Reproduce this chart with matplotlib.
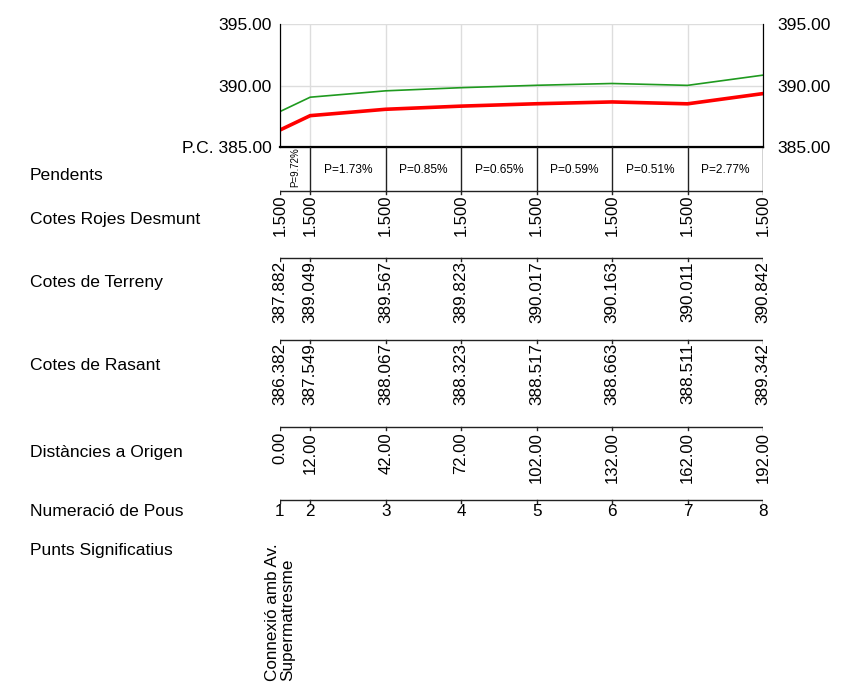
import matplotlib
matplotlib.use('Agg')
import matplotlib.pyplot as plt

plt.rcParams['font.family'] = ['Liberation Sans', 'DejaVu Sans']

# dades del perfil
distancies = [0, 12, 42, 72, 102, 132, 162, 192]
cotes_terreny = [387.882, 389.049, 389.567, 389.823, 390.017, 390.163, 390.011, 390.842]
cotes_rasant = [386.382, 387.549, 388.067, 388.323, 388.517, 388.663, 388.511, 389.342]
cotes_rojes = [1.500, 1.500, 1.500, 1.500, 1.500, 1.500, 1.500, 1.500]
pendents = ['P=9.72%', 'P=1.73%', 'P=0.85%', 'P=0.65%', 'P=0.59%', 'P=0.51%', 'P=2.77%']
pous = ['1', '2', '3', '4', '5', '6', '7', '8']
punts = ['Connexió amb Av.\nSupermatresme', '', '', '', '', '', '', '']

W, H = 859, 686
fig = plt.figure(figsize=(W / 100, H / 100), dpi=100)

x0, x1 = 280, 763
y_top, y_bot = 24, 147

# grafic del perfil
ax = fig.add_axes([x0 / W, 1 - y_bot / H, (x1 - x0) / W, (y_bot - y_top) / H])
ax.plot(distancies, cotes_terreny, color='#1f9a1f', lw=1.2)
ax.plot(distancies, cotes_rasant, color='#ff0000', lw=2.6)
ax.set_xlim(0, 192)
ax.set_ylim(385, 395)
ax.set_xticks(distancies)
ax.set_yticks([385, 390, 395])
ax.set_yticklabels(['P.C. 385.00', '390.00', '395.00'], fontsize=12.6)
ax.tick_params(axis='x', length=0, labelbottom=False)
ax.tick_params(axis='y', length=0, pad=6)
ax.grid(True, color='#dddddd', lw=1)
ax.spines['top'].set_visible(False)
ax.spines['bottom'].set_linewidth(1.6)
ax2 = ax.twinx()
ax2.set_ylim(385, 395)
ax2.set_yticks([385, 390, 395])
ax2.set_yticklabels(['385.00', '390.00', '395.00'], fontsize=12.6)
ax2.tick_params(axis='y', length=0, pad=10.5)
ax2.spines['top'].set_visible(False)

# guitarra (taula inferior), y en pixels
tb = fig.add_axes([x0 / W, 0, (x1 - x0) / W, 1 - y_bot / H])
tb.set_xlim(0, 192)
tb.set_ylim(H, y_bot)
tb.axis('off')

# pendents
for d in distancies[1:]:
    tb.plot([d, d], [y_bot, 191], color='#222222', lw=1)
for i, p in enumerate(pendents):
    xm = (distancies[i] + distancies[i + 1]) / 2
    if i == 0:
        tb.text(xm, 187, p, rotation=90, ha='center', va='bottom', fontsize=7)
    else:
        tb.text(xm, 170, p, ha='center', va='center', fontsize=8.6)

# linies de la guitarra amb marques
for yl in [191, 258, 340, 427, 500]:
    tb.plot([0, 192], [yl, yl], color='#222222', lw=1)
    for d in distancies:
        tb.plot([d, d], [yl, yl + 3], color='#222222', lw=1)

for d, v in zip(distancies, cotes_rojes):
    tb.text(d, 195, '%.3f' % v, rotation=90, ha='center', va='top', fontsize=12)
for d, v in zip(distancies, cotes_terreny):
    tb.text(d, 261, '%.3f' % v, rotation=90, ha='center', va='top', fontsize=12.3)
for d, v in zip(distancies, cotes_rasant):
    tb.text(d, 343, '%.3f' % v, rotation=90, ha='center', va='top', fontsize=12.3)
for d in distancies:
    tb.text(d, 432, '%.2f' % d, rotation=90, ha='center', va='top', fontsize=12)
for d, n in zip(distancies, pous):
    tb.text(d, 511, n, ha='center', va='center', fontsize=12.3)
for d, t in zip(distancies, punts):
    if t:
        tb.text(d, 681, t, rotation=90, ha='center', va='bottom', fontsize=12.3,
                multialignment='left', linespacing=0.95)

# etiquetes de files
files = [('Pendents', 176), ('Cotes Rojes Desmunt', 220), ('Cotes de Terreny', 283),
         ('Cotes de Rasant', 366), ('Distàncies a Origen', 452),
         ('Numeració de Pous', 511), ('Punts Significatius', 550)]
for nom, yp in files:
    fig.text(30 / W, 1 - yp / H, nom, ha='left', va='center', fontsize=12.6)

fig.savefig('out.png', dpi=100)
